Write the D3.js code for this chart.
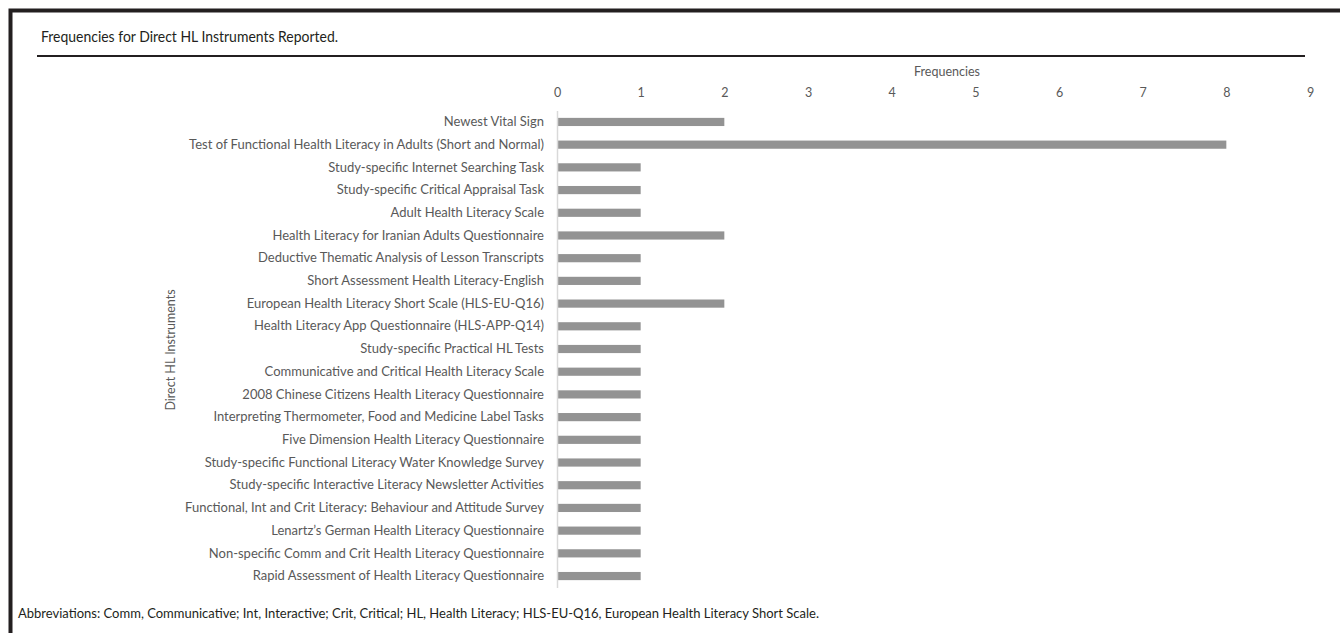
<!DOCTYPE html>
<html><head><meta charset="utf-8">
<script src="https://cdn.jsdelivr.net/npm/d3@7"></script>
<style>
body{margin:0;background:#fff;}
svg{display:block;}
text{font-family:Lato,"Open Sans",sans-serif;}
</style></head>
<body>
<svg id="c" width="1340" height="633"></svg>
<script>
const categories = [
 "Newest Vital Sign",
 "Test of Functional Health Literacy in Adults (Short and Normal)",
 "Study-specific Internet Searching Task",
 "Study-specific Critical Appraisal Task",
 "Adult Health Literacy Scale",
 "Health Literacy for Iranian Adults Questionnaire",
 "Deductive Thematic Analysis of Lesson Transcripts",
 "Short Assessment Health Literacy-English",
 "European Health Literacy Short Scale (HLS-EU-Q16)",
 "Health Literacy App Questionnaire (HLS-APP-Q14)",
 "Study-specific Practical HL Tests",
 "Communicative and Critical Health Literacy Scale",
 "2008 Chinese Citizens Health Literacy Questionnaire",
 "Interpreting Thermometer, Food and Medicine Label Tasks",
 "Five Dimension Health Literacy Questionnaire",
 "Study-specific Functional Literacy Water Knowledge Survey",
 "Study-specific Interactive Literacy Newsletter Activities",
 "Functional, Int and Crit Literacy: Behaviour and Attitude Survey",
 "Lenartz\u2019s German Health Literacy Questionnaire",
 "Non-specific Comm and Crit Health Literacy Questionnaire",
 "Rapid Assessment of Health Literacy Questionnaire"
];
const frequencies = [2,8,1,1,1,2,1,1,2,1,1,1,1,1,1,1,1,1,1,1,1];
const tickValues = [0,1,2,3,4,5,6,7,8,9];
const titleText = "Frequencies for Direct HL Instruments Reported.";
const xAxisTitle = "Frequencies";
const yAxisTitle = "Direct HL Instruments";
const footnote = "Abbreviations: Comm, Communicative; Int, Interactive; Crit, Critical; HL, Health Literacy; HLS-EU-Q16, European Health Literacy Short Scale.";

const svg = d3.select("#c");
const FONT = "Lato,'Open Sans',sans-serif";

// frame
svg.append("rect").attr("x",10.5).attr("y",10.5).attr("width",1340).attr("height",640)
  .attr("fill","none").attr("stroke","#231f20").attr("stroke-width",4);
svg.append("text").attr("x",41).attr("y",42).attr("font-size",15.5).attr("fill","#231f20")
  .attr("textLength",297).attr("lengthAdjust","spacingAndGlyphs").text(titleText);
svg.append("line").attr("x1",37).attr("x2",1305).attr("y1",56).attr("y2",56)
  .attr("stroke","#231f20").attr("stroke-width",2);

const x = d3.scaleLinear().domain([0,9]).range([557,1310]);
const y = d3.scaleBand().domain(categories).range([110.6,587.4]).paddingInner(0.64).paddingOuter(0.32);

// x tick labels
const xAxis = d3.axisTop(x).tickValues(tickValues).tickSize(0).tickPadding(0).tickFormat(d3.format("d"));
const gx = svg.append("g").attr("transform","translate(0,97)").call(xAxis);
gx.select(".domain").remove();
gx.selectAll("text").attr("font-size",12.5).attr("fill","#595959").attr("font-family",FONT);

svg.append("text").attr("x",947).attr("y",76).attr("text-anchor","middle")
  .attr("font-size",12.5).attr("fill","#595959").text(xAxisTitle);

// bars
svg.append("g").selectAll("rect").data(categories).join("rect")
  .attr("x",x(0)).attr("y",d=>y(d)).attr("height",y.bandwidth())
  .attr("width",(d,i)=>x(frequencies[i])-x(0)).attr("fill","#939393");

// y axis
const yAxis = d3.axisLeft(y).tickSize(0).tickPadding(13);
const gy = svg.append("g").attr("transform",`translate(${x(0)},0)`).call(yAxis);
gy.select(".domain").attr("stroke","#d9d9d9").attr("stroke-width",1.5);
gy.selectAll("text").attr("font-size",13).attr("fill","#595959").attr("font-family",FONT);

svg.append("text").attr("transform","translate(175,350) rotate(-90)").attr("text-anchor","middle")
  .attr("font-size",12.5).attr("fill","#595959").text(yAxisTitle);

svg.append("text").attr("x",18).attr("y",618).attr("font-size",13).attr("fill","#231f20").text(footnote);
</script>
</body></html>
